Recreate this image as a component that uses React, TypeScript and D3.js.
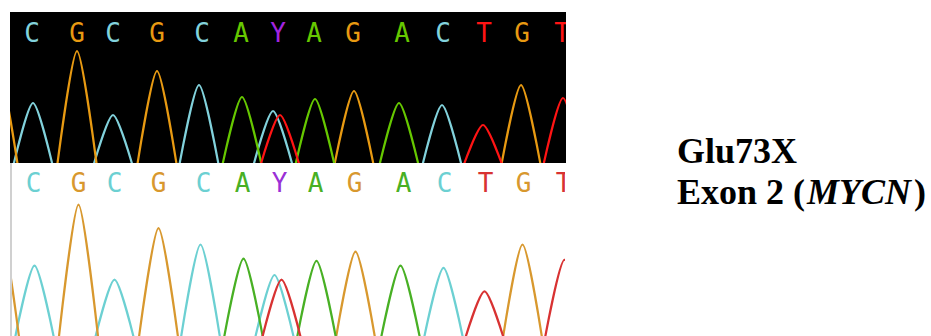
import React, { useRef, useEffect } from "react";
import * as d3 from "d3";

// base calls along the read (scan units = pixels from left edge of trace panel)
const baseCalls = ["C", "G", "C", "G", "C", "A", "Y", "A", "G", "A", "C", "T", "G", "T"];
const basePositions = [22, 67, 103, 147, 192, 231, 268, 304, 343, 392, 433, 474, 512, 552];

// peaks per channel: [scan position, signal]
const cPeaks = [[23, 64], [103, 52], [189, 82], [263, 56], [432, 62]];
const gPeaks = [[-12, 100], [67, 116], [147, 96], [344, 76], [511, 82]];
const aPeaks = [[232, 70], [305, 68], [389, 64]];
const tPeaks = [[270, 52], [473, 42], [553, 69]];

const topColors = { C: "#82d2dc", G: "#e89a12", A: "#66c800", T: "#ff1414", Y: "#a324e0" };
const bottomColors = { C: "#6cd0d2", G: "#d8982e", A: "#48b024", T: "#d83232", Y: "#9a30d6" };

const W = 931;
const H = 336;
const PEAK_HALF = 20;

function App() {
  const svgRef = useRef(null);

  useEffect(() => {
    const svg = d3.select(svgRef.current);
    svg.selectAll("*").remove();

    const channels = [
      { base: "C", peaks: cPeaks },
      { base: "G", peaks: gPeaks },
      { base: "A", peaks: aPeaks },
      { base: "T", peaks: tPeaks },
    ];

    const panels = [
      {
        id: "top",
        clip: [10, 12, 556, 151],
        bg: "#000",
        x: d3.scaleLinear().domain([0, 556]).range([10, 566]),
        y: d3.scaleLinear().domain([0, 155]).range([167, 12]),
        letterY: 42,
        colors: topColors,
      },
      {
        id: "bottom",
        clip: [12, 163, 553, 173],
        bg: "#fff",
        x: d3.scaleLinear().domain([0, 556]).range([11.5, 567.5]),
        y: d3.scaleLinear().domain([0, 155]).range([340.7, 340.7 - 155 * 1.173]),
        letterY: 192,
        colors: bottomColors,
      },
    ];

    const defs = svg.append("defs");

    panels.forEach((p) => {
      const [cx, cy, cw, ch] = p.clip;
      defs
        .append("clipPath")
        .attr("id", `clip-${p.id}`)
        .append("rect")
        .attr("x", cx)
        .attr("y", cy)
        .attr("width", cw)
        .attr("height", ch);

      svg
        .append("rect")
        .attr("x", cx)
        .attr("y", cy)
        .attr("width", cw)
        .attr("height", ch)
        .attr("fill", p.bg);

      const g = svg.append("g").attr("clip-path", `url(#clip-${p.id})`);

      // each peak is foot -> apex -> foot, nearly straight sides with a rounded tip
      const line = d3
        .line()
        .x((d) => p.x(d[0]))
        .y((d) => p.y(d[1]))
        .curve(d3.curveCardinal.tension(0.25));

      channels.forEach((c) => {
        c.peaks.forEach(([pos, sig]) => {
          g.append("path")
            .datum([
              [pos - PEAK_HALF, 0],
              [pos, sig],
              [pos + PEAK_HALF, 0],
            ])
            .attr("fill", "none")
            .attr("stroke", p.colors[c.base])
            .attr("stroke-width", 2.2)
            .attr("stroke-linejoin", "round")
            .attr("d", line);
        });
      });

      g.selectAll("text.base")
        .data(baseCalls)
        .join("text")
        .attr("class", "base")
        .attr("x", (d, i) => p.x(basePositions[i]))
        .attr("y", p.letterY)
        .attr("text-anchor", "middle")
        .style("font-family", "'DejaVu Sans Mono', monospace")
        .style("font-size", "26px")
        .attr("fill", (d) => p.colors[d])
        .text((d) => d);
    });

    // left edge of lower panel
    svg
      .append("line")
      .attr("x1", 11)
      .attr("x2", 11)
      .attr("y1", 163)
      .attr("y2", H)
      .attr("stroke", "#d0d0d0")
      .attr("stroke-width", 2);

    // label
    const label = svg
      .append("text")
      .attr("x", 677)
      .attr("y", 163)
      .style("font-family", "'Liberation Serif', 'Times New Roman', serif")
      .style("font-size", "36px")
      .style("font-weight", "bold")
      .attr("fill", "#000");
    label.append("tspan").text("Glu73X");

    const label2 = svg
      .append("text")
      .attr("x", 677)
      .attr("y", 204)
      .style("font-family", "'Liberation Serif', 'Times New Roman', serif")
      .style("font-size", "36px")
      .style("font-weight", "bold")
      .attr("fill", "#000");
    label2.append("tspan").text("Exon 2 (");
    label2.append("tspan").attr("dx", 2).style("font-style", "italic").text("MYCN");
    label2.append("tspan").attr("dx", 3).text(")");
  }, []);

  return (
    <svg
      ref={svgRef}
      width={W}
      height={H}
      style={{ position: "absolute", left: 0, top: 0, background: "#fff" }}
    ></svg>
  );
}

export default App;
